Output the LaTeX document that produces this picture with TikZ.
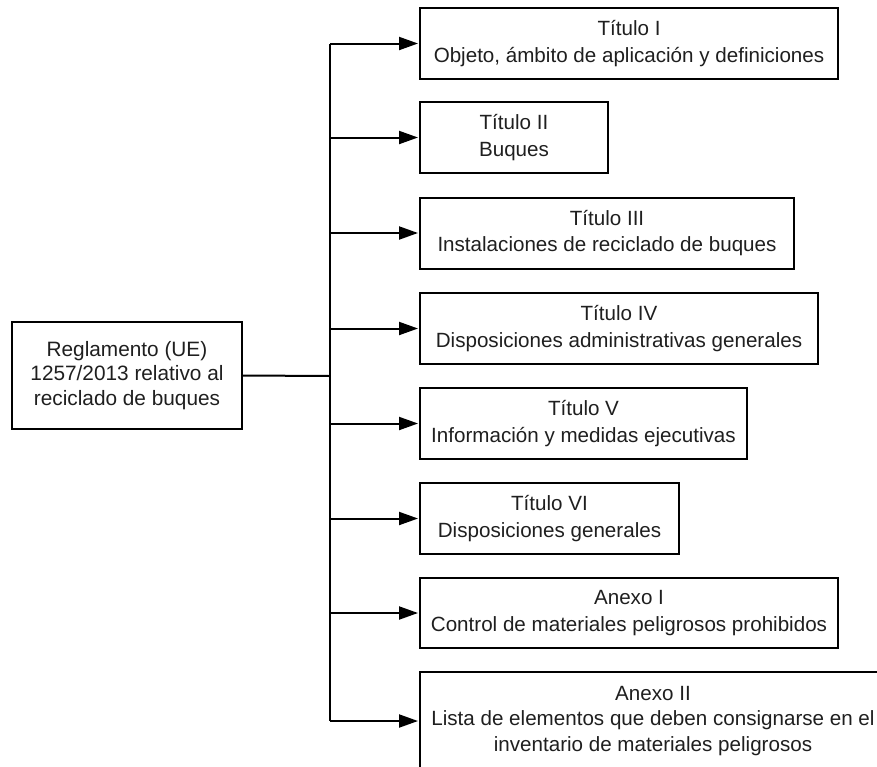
\documentclass[tikz,border=0pt]{standalone}
\usepackage{fontspec}
\setmainfont{Liberation Sans}
\usetikzlibrary{arrows.meta}
\begin{document}
\begin{tikzpicture}[x=1pt,y=-1pt,
  every node/.style={font=\fontsize{20.6}{26.5}\selectfont, text=black!88},
  box/.style={draw=black, line width=2pt, fill=white, align=center, inner sep=0pt},
  link/.style={line width=2pt, draw=black},
  arr/.style={link, -{Triangle[length=19pt,width=13pt]}, shorten >=1pt}]
\useasboundingbox (0,0) rectangle (877,766);
\clip (0,0) rectangle (877,766);

% source regulation
\node[box, minimum width=230, minimum height=107,
      font=\fontsize{20.8}{24.3}\selectfont] (root) at (127,375.5)
  {Reglamento (UE)\\1257/2013 relativo al\\reciclado de buques};

% titles and annexes
\node[box, minimum width=418, minimum height=71] (t1) at (629,43.5)
  {Título I\\Objeto, ámbito de aplicación y definiciones};
\node[box, minimum width=188, minimum height=71] (t2) at (514,137.5)
  {Título II\\Buques};
\node[box, minimum width=374, minimum height=71] (t3) at (607,233)
  {Título III\\Instalaciones de reciclado de buques};
\node[box, minimum width=398, minimum height=71] (t4) at (619,328.5)
  {Título IV\\Disposiciones administrativas generales};
\node[box, minimum width=327, minimum height=71] (t5) at (583.5,423.5)
  {Título V\\Información y medidas ejecutivas};
\node[box, minimum width=259, minimum height=71] (t6) at (549.5,518.5)
  {Título VI\\Disposiciones generales};
\node[box, minimum width=418, minimum height=70] (a1) at (629,613)
  {Anexo I\\Control de materiales peligrosos prohibidos};
\node[box, minimum width=466, minimum height=98,
      font=\fontsize{20.6}{25.3}\selectfont] (a2) at (653,721)
  {Anexo II\\Lista de elementos que deben consignarse en el\\inventario de materiales peligrosos};

% trunk of the tree
\coordinate (hub) at (330,376);
\coordinate (top) at (330,43.5);
\coordinate (bot) at (330,721);
\draw[link] (root.east) -- (hub);
\draw[link] (top) -- (bot);

% branches to each part
\foreach \n in {t1,t2,t3,t4,t5,t6,a1,a2}
  \draw[arr] (\n.west -| hub) -- (\n.west);
\end{tikzpicture}
\end{document}
